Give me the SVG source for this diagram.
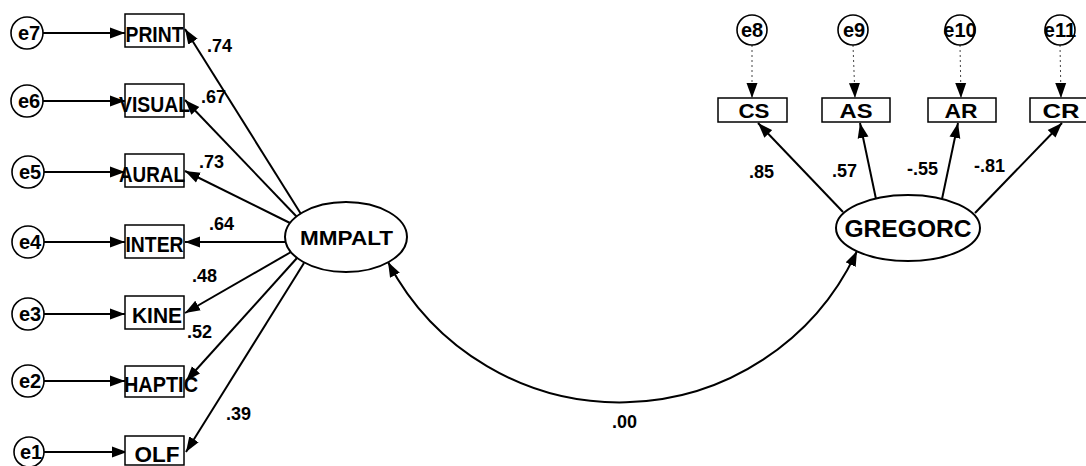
<svg xmlns="http://www.w3.org/2000/svg" width="1086" height="466" viewBox="0 0 1086 466">
<defs>
<marker id="ah" markerUnits="userSpaceOnUse" markerWidth="16" markerHeight="12" viewBox="0 0 16 12" refX="15" refY="6" orient="auto-start-reverse"><path d="M0,0.5 L15,6 L0,11.5 z" fill="#000"/></marker>
<style>
.bx{fill:#fff;stroke:#000;stroke-width:1.5}
.lv{fill:#fff;stroke:#000;stroke-width:2}
.er{fill:#fff;stroke:#000;stroke-width:1.6}
.t{font-family:"Liberation Sans",Arial,sans-serif;font-weight:bold;fill:#000;text-anchor:middle}
.bt{font-size:22px}
.et{font-size:20px}
.lt{font-family:"Liberation Sans",Arial,sans-serif;font-weight:bold;font-size:18px;fill:#000}
.c{fill:none;stroke:#000;stroke-width:2;marker-end:url(#ah)}
.d{fill:none;stroke:#444;stroke-width:1;stroke-dasharray:2 3;marker-end:url(#ah)}
</style>
</defs>
<rect width="1086" height="466" fill="#fff"/>

<g id="connectors">
<line class="c" x1="43" y1="33" x2="125" y2="33"/>
<line class="c" x1="43" y1="101" x2="125" y2="101"/>
<line class="c" x1="43" y1="172" x2="125" y2="172"/>
<line class="c" x1="43" y1="242" x2="125" y2="242"/>
<line class="c" x1="43" y1="314" x2="125" y2="314"/>
<line class="c" x1="43" y1="381" x2="125" y2="381"/>
<line class="c" x1="43" y1="452" x2="127" y2="452"/>
<line class="c" x1="301" y1="214" x2="185" y2="29"/>
<line class="c" x1="297" y1="217" x2="185" y2="100"/>
<line class="c" x1="290" y1="223" x2="185" y2="171"/>
<line class="c" x1="285" y1="242" x2="185" y2="242"/>
<line class="c" x1="291" y1="252" x2="185" y2="313"/>
<line class="c" x1="297" y1="258" x2="186" y2="381"/>
<line class="c" x1="304" y1="263" x2="186" y2="452"/>
<line class="d" x1="752" y1="45" x2="752" y2="98"/>
<line class="d" x1="853" y1="45" x2="855" y2="98"/>
<line class="d" x1="960" y1="45" x2="961" y2="98"/>
<line class="d" x1="1060" y1="45" x2="1061" y2="98"/>
<line class="c" x1="843" y1="212" x2="758" y2="123"/>
<line class="c" x1="876" y1="199" x2="860" y2="123"/>
<line class="c" x1="942" y1="199" x2="958" y2="123"/>
<line class="c" x1="975" y1="213" x2="1062" y2="123"/>
<path class="c" d="M388,262 A261.5,261.5 0 0 0 857,251" style="marker-start:url(#ah)"/>
</g>

<g id="e7"><circle class="er" cx="27" cy="33" r="16"/><text class="t et" x="29" y="40">e7</text></g>
<g id="e6"><circle class="er" cx="27" cy="101" r="16"/><text class="t et" x="29" y="108">e6</text></g>
<g id="e5"><circle class="er" cx="28" cy="172" r="16"/><text class="t et" x="30" y="179">e5</text></g>
<g id="e4"><circle class="er" cx="28" cy="242" r="16"/><text class="t et" x="30" y="249">e4</text></g>
<g id="e3"><circle class="er" cx="28" cy="314" r="16"/><text class="t et" x="30" y="321">e3</text></g>
<g id="e2"><circle class="er" cx="28" cy="381" r="16"/><text class="t et" x="30" y="388">e2</text></g>
<g id="e1"><circle class="er" cx="29" cy="452" r="15"/><text class="t et" x="31" y="459">e1</text></g>

<g id="PRINT"><rect class="bx" x="125" y="14" width="59" height="33"/><text class="t bt" x="154.5" y="41.5" textLength="58" lengthAdjust="spacingAndGlyphs">PRINT</text></g>
<g id="VISUAL"><rect class="bx" x="125" y="84" width="59" height="33"/><text class="t bt" x="154.5" y="111.5" textLength="71" lengthAdjust="spacingAndGlyphs">VISUAL</text></g>
<g id="AURAL"><rect class="bx" x="125" y="154" width="59" height="33"/><text class="t bt" x="152" y="181.5" textLength="66" lengthAdjust="spacingAndGlyphs">AURAL</text></g>
<g id="INTER"><rect class="bx" x="125" y="225" width="59" height="33"/><text class="t bt" x="154.5" y="252" textLength="58" lengthAdjust="spacingAndGlyphs">INTER</text></g>
<g id="KINE"><rect class="bx" x="125" y="296" width="59" height="33"/><text class="t bt" x="157" y="323" textLength="50" lengthAdjust="spacingAndGlyphs">KINE</text></g>
<g id="HAPTIC"><rect class="bx" x="125" y="366" width="59" height="31"/><text class="t bt" x="161" y="392" textLength="74" lengthAdjust="spacingAndGlyphs">HAPTIC</text></g>
<g id="OLF"><rect class="bx" x="125" y="436" width="59" height="29"/><text class="t bt" x="157" y="462" textLength="45" lengthAdjust="spacingAndGlyphs">OLF</text></g>

<g id="MMPALT"><ellipse class="lv" cx="346" cy="237" rx="61" ry="35"/><text class="t" x="346.5" y="245" font-size="21" textLength="93" lengthAdjust="spacingAndGlyphs">MMPALT</text></g>
<g id="GREGORC"><ellipse class="lv" cx="908" cy="228" rx="72" ry="33"/><text class="t" x="908" y="237" font-size="23" textLength="127" lengthAdjust="spacingAndGlyphs">GREGORC</text></g>

<g id="e8"><circle class="er" cx="752" cy="30" r="15"/><text class="t et" x="752" y="37">e8</text></g>
<g id="e9"><circle class="er" cx="853" cy="30" r="15"/><text class="t et" x="854" y="37">e9</text></g>
<g id="e10"><circle class="er" cx="960" cy="30" r="15"/><text class="t et" x="960" y="37">e10</text></g>
<g id="e11"><circle class="er" cx="1060" cy="30" r="15"/><text class="t et" x="1060" y="37">e11</text></g>

<g id="CS"><rect class="bx" x="718" y="98" width="69" height="24"/><text class="t" x="754" y="118" font-size="21" textLength="31" lengthAdjust="spacingAndGlyphs">CS</text></g>
<g id="AS"><rect class="bx" x="822" y="98" width="68" height="24"/><text class="t" x="856" y="118" font-size="21" textLength="33" lengthAdjust="spacingAndGlyphs">AS</text></g>
<g id="AR"><rect class="bx" x="928" y="98" width="68" height="24"/><text class="t" x="961" y="118" font-size="21" textLength="33" lengthAdjust="spacingAndGlyphs">AR</text></g>
<g id="CR"><rect class="bx" x="1030" y="98" width="68" height="24"/><text class="t" x="1061" y="118" font-size="21" textLength="37" lengthAdjust="spacingAndGlyphs">CR</text></g>

<g id="labels">
<text class="lt" x="207" y="52">.74</text>
<text class="lt" x="201" y="103">.67</text>
<text class="lt" x="199" y="168">.73</text>
<text class="lt" x="209" y="230">.64</text>
<text class="lt" x="192" y="282">.48</text>
<text class="lt" x="187" y="338">.52</text>
<text class="lt" x="226" y="420">.39</text>
<text class="lt" x="749" y="178">.85</text>
<text class="lt" x="832" y="177">.57</text>
<text class="lt" x="907" y="175">-.55</text>
<text class="lt" x="974" y="172">-.81</text>
<text class="lt" x="612" y="428">.00</text>
</g>
</svg>
